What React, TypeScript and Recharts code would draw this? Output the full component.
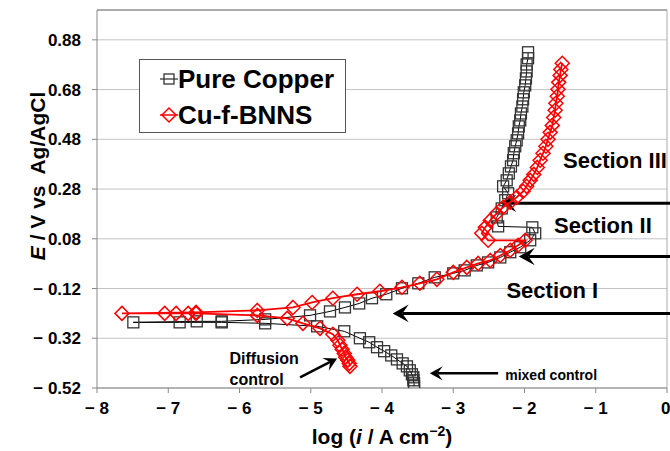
import React from 'react';
import { ScatterChart, Scatter, XAxis, YAxis, CartesianGrid, ReferenceLine, ReferenceDot, Legend } from 'recharts';

const FONT = '"Liberation Sans", Arial, sans-serif';

// log(i / A cm-2) and E (V vs Ag/AgCl), in scan order: cathodic branch -> Ecorr -> anodic branch
const copperCathodicLogI = [-3.55, -3.55, -3.56, -3.56, -3.58, -3.61, -3.65, -3.71, -3.79, -3.87, -3.97, -4.07, -4.18, -4.31, -4.53, -4.91, -5.64, -6.25, -6.84, -7.49];
const copperCathodicE = [-0.513, -0.501, -0.489, -0.477, -0.465, -0.449, -0.433, -0.421, -0.405, -0.389, -0.372, -0.356, -0.336, -0.32, -0.292, -0.272, -0.26, -0.256, -0.256, -0.256];
const copperAnodicLogI = [-6.6, -6.25, -5.64, -5.01, -4.73, -4.52, -4.32, -4.14, -3.94, -3.72, -3.49, -3.26, -3.0, -2.84, -2.67, -2.51, -2.34, -2.2, -2.06, -1.92, -1.85, -1.89, -2.37, -2.39, -2.32, -2.27, -2.23, -2.3, -2.25, -2.22, -2.19, -2.16, -2.15, -2.13, -2.11, -2.09, -2.08, -2.06, -2.05, -2.03, -2.02, -2.01, -1.99, -1.98, -1.97, -1.97, -1.95, -1.95];
const copperAnodicE = [-0.252, -0.252, -0.244, -0.228, -0.212, -0.196, -0.18, -0.159, -0.143, -0.119, -0.099, -0.075, -0.059, -0.047, -0.027, -0.015, 0.005, 0.026, 0.046, 0.074, 0.102, 0.126, 0.13, 0.166, 0.202, 0.235, 0.263, 0.291, 0.315, 0.343, 0.371, 0.396, 0.424, 0.452, 0.476, 0.504, 0.532, 0.556, 0.584, 0.612, 0.641, 0.669, 0.697, 0.725, 0.753, 0.781, 0.806, 0.83];

const bnnsCathodicLogI = [-4.45, -4.46, -4.48, -4.51, -4.53, -4.56, -4.59, -4.62, -4.69, -4.87, -5.11, -5.33, -5.75, -6.61, -6.72, -6.89, -7.05, -7.65];
const bnnsCathodicE = [-0.433, -0.421, -0.408, -0.396, -0.381, -0.364, -0.348, -0.328, -0.304, -0.28, -0.26, -0.24, -0.228, -0.22, -0.22, -0.22, -0.22, -0.22];
const bnnsAnodicLogI = [-6.61, -5.75, -5.25, -4.98, -4.69, -4.35, -4.03, -3.72, -3.47, -3.23, -3.0, -2.81, -2.65, -2.48, -2.34, -2.2, -2.09, -1.99, -2.51, -2.6, -2.55, -2.48, -2.39, -2.3, -2.2, -2.11, -2.02, -1.97, -1.92, -1.87, -1.82, -1.78, -1.74, -1.7, -1.67, -1.64, -1.61, -1.59, -1.57, -1.56, -1.54, -1.53, -1.52, -1.5, -1.49, -1.47];
const bnnsAnodicE = [-0.216, -0.208, -0.196, -0.176, -0.159, -0.143, -0.131, -0.115, -0.099, -0.083, -0.055, -0.035, -0.019, -0.007, 0.013, 0.034, 0.054, 0.074, 0.074, 0.102, 0.126, 0.154, 0.182, 0.207, 0.227, 0.247, 0.271, 0.291, 0.315, 0.339, 0.367, 0.396, 0.424, 0.452, 0.48, 0.508, 0.536, 0.568, 0.597, 0.625, 0.653, 0.681, 0.709, 0.737, 0.761, 0.786];

const xTicks = [-8, -7, -6, -5, -4, -3, -2, -1, 0];
const yTicks = [-0.52, -0.32, -0.12, 0.08, 0.28, 0.48, 0.68, 0.88];

const toPoints = (xs: number[], ys: number[]) => xs.map((x, i) => ({ x, y: ys[i] }));
const copper = [...toPoints(copperCathodicLogI, copperCathodicE), ...toPoints(copperAnodicLogI, copperAnodicE)];
const bnns = [...toPoints(bnnsCathodicLogI, bnnsCathodicE), ...toPoints(bnnsAnodicLogI, bnnsAnodicE)];

const minus = (v: number, digits: number) => (v < 0 ? `\u2212 ${Math.abs(v).toFixed(digits)}` : v.toFixed(digits));

const Square = (p: any) => (
  <rect x={p.cx - 5.5} y={p.cy - 5.5} width={11} height={11} fill="none" stroke="#333" strokeWidth={1.3} />
);
const Diamond = (p: any) => (
  <path d={`M${p.cx},${p.cy - 7}L${p.cx + 7},${p.cy}L${p.cx},${p.cy + 7}L${p.cx - 7},${p.cy}Z`} fill="none" stroke="#ff0000" strokeWidth={1.5} />
);

// arrow with its head at (x2, y2)
const arrow = (width: number, head: number) => (p: any) => {
  const { x1, y1, x2, y2 } = p;
  const a = Math.atan2(y1 - y2, x1 - x2);
  const ux = Math.cos(a), uy = Math.sin(a);
  const px = -uy, py = ux;
  const bx = x2 + ux * head, by = y2 + uy * head;
  const nx = x2 + ux * head * 0.6, ny = y2 + uy * head * 0.6;
  const w = head * 0.55;
  return (
    <g>
      <line x1={x1} y1={y1} x2={nx} y2={ny} stroke="#000" strokeWidth={width} />
      <path d={`M${x2},${y2}L${bx + px * w},${by + py * w}L${nx},${ny}L${bx - px * w},${by - py * w}Z`} fill="#000" />
    </g>
  );
};

const note = (text: string, size: number, anchor: 'start' | 'middle' = 'middle') => (p: any) => (
  <text x={p.cx} y={p.cy} textAnchor={anchor} dominantBaseline="central" fontFamily={FONT} fontWeight="bold" fontSize={size} fill="#000">
    {text}
  </text>
);

const XTitle = (p: any) => {
  const { x, y, width } = p.viewBox;
  return (
    <text x={x + width / 2} y={y + 56} textAnchor="middle" fontFamily={FONT} fontWeight="bold" fontSize={21} fill="#000">
      log (<tspan fontStyle="italic">i</tspan> / A cm<tspan dy={-8} fontSize={14}>{'\u22122'}</tspan><tspan dy={8}>)</tspan>
    </text>
  );
};

const YTitle = (p: any) => {
  const { y, height } = p.viewBox;
  const cx = 45, cy = y + height / 2 - 23;
  return (
    <text x={cx} y={cy} transform={`rotate(-90 ${cx} ${cy})`} textAnchor="middle" fontFamily={FONT} fontWeight="bold" fontSize={21} fill="#000" style={{ whiteSpace: 'pre' }}>
      <tspan fontStyle="italic">E</tspan> / V vs  Ag/AgCl
    </text>
  );
};

const LegendBox = () => (
  <div style={{ width: 207, height: 74, border: '1px solid #555', background: '#fff', boxSizing: 'border-box', fontFamily: FONT, fontWeight: 'bold', fontSize: 26, color: '#000' }}>
    <div style={{ display: 'flex', alignItems: 'center', height: 36, marginTop: 1 }}>
      <svg width={38} height={20}>
        <line x1={20} y1={10} x2={38} y2={10} stroke="#000" strokeWidth={1} />
        <rect x={24} y={5} width={10} height={10} fill="none" stroke="#333" strokeWidth={1.3} />
      </svg>
      <span>Pure Copper</span>
    </div>
    <div style={{ display: 'flex', alignItems: 'center', height: 36 }}>
      <svg width={38} height={20}>
        <line x1={20} y1={10} x2={38} y2={10} stroke="#ff0000" strokeWidth={1.5} />
        <path d="M29,3L36,10L29,17L22,10Z" fill="none" stroke="#ff0000" strokeWidth={1.5} />
      </svg>
      <span>Cu-f-BNNS</span>
    </div>
  </div>
);

const tickStyle = { fontSize: 17, fontWeight: 'bold', fill: '#000', fontFamily: FONT };

export default function App() {
  return (
    <div style={{ position: 'absolute', left: 0, top: 0, fontFamily: FONT }}>
      <ScatterChart width={670} height={451} margin={{ top: 10, right: 3, left: 0, bottom: 0 }}>
        <CartesianGrid vertical={false} stroke="#c4c4c4" />
        <XAxis
          type="number" dataKey="x" domain={[-8, 0]} ticks={xTicks} allowDataOverflow height={63}
          tick={tickStyle} tickFormatter={(v: number) => minus(v, 0)} tickSize={5} tickMargin={9}
          axisLine={{ stroke: '#888' }} tickLine={{ stroke: '#888' }} label={<XTitle />}
        />
        <YAxis
          type="number" dataKey="y" domain={[-0.52, 1.0]} ticks={yTicks} allowDataOverflow width={97}
          tick={tickStyle} tickFormatter={(v: number) => minus(v, 2)} tickSize={5} tickMargin={11}
          axisLine={{ stroke: '#888' }} tickLine={{ stroke: '#888' }} label={<YTitle />}
        />
        <ReferenceLine y={1.0} stroke="#777" />
        <ReferenceLine x={0} stroke="#aaa" />
        <Scatter data={copper} line={{ stroke: '#000', strokeWidth: 1 }} lineType="joint" shape={Square} isAnimationActive={false} />
        <Scatter data={bnns} line={{ stroke: '#ff0000', strokeWidth: 1.8 }} lineType="joint" shape={Diamond} isAnimationActive={false} />

        <ReferenceLine segment={[{ x: 0.05, y: 0.223 }, { x: -2.34, y: 0.223 }]} ifOverflow="visible" shape={arrow(3, 16)} />
        <ReferenceLine segment={[{ x: 0.05, y: 0.009 }, { x: -2.08, y: 0.009 }]} ifOverflow="visible" shape={arrow(3, 16)} />
        <ReferenceLine segment={[{ x: 0.05, y: -0.22 }, { x: -3.85, y: -0.22 }]} ifOverflow="visible" shape={arrow(3, 16)} />
        <ReferenceLine segment={[{ x: -2.37, y: -0.461 }, { x: -3.33, y: -0.461 }]} ifOverflow="visible" shape={arrow(2.5, 13)} />
        <ReferenceLine segment={[{ x: -5.15, y: -0.477 }, { x: -4.63, y: -0.401 }]} ifOverflow="visible" shape={arrow(2.5, 13)} />

        <ReferenceDot x={-0.73} y={0.395} ifOverflow="visible" shape={note('Section III', 22)} />
        <ReferenceDot x={-0.9} y={0.134} ifOverflow="visible" shape={note('Section II', 22)} />
        <ReferenceDot x={-1.61} y={-0.127} ifOverflow="visible" shape={note('Section I', 22)} />
        <ReferenceDot x={-6.14} y={-0.401} ifOverflow="visible" shape={note('Diffusion', 16, 'start')} />
        <ReferenceDot x={-6.14} y={-0.485} ifOverflow="visible" shape={note('control', 16, 'start')} />
        <ReferenceDot x={-2.27} y={-0.469} ifOverflow="visible" shape={note('mixed control', 14, 'start')} />

        <Legend content={<LegendBox />} layout="vertical" align="center" verticalAlign="middle" wrapperStyle={{ left: 139, top: 59, width: 207, height: 74 }} />
      </ScatterChart>
    </div>
  );
}
